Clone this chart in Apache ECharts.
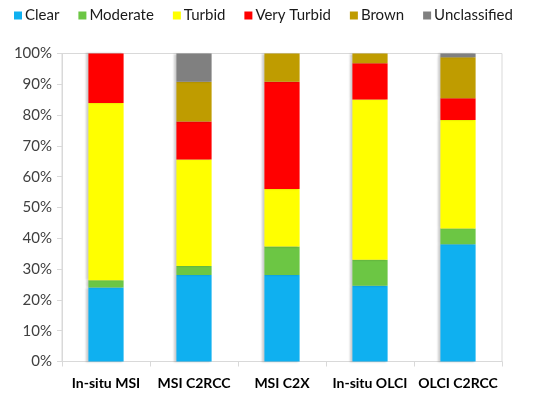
<!DOCTYPE html>
<html><head><meta charset="utf-8">
<script src="https://cdn.jsdelivr.net/npm/echarts@6/dist/echarts.min.js"></script>
<style>html,body{margin:0;padding:0;background:#fff}#c{width:550px;height:399px}</style>
</head><body><div id="c"></div>
<script>
const categories = ['In-situ MSI', 'MSI C2RCC', 'MSI C2X', 'In-situ OLCI', 'OLCI C2RCC'];
const clear = [24, 28.1, 28.1, 24.6, 38.1];
const moderate = [2.4, 2.9, 9.2, 8.4, 5.1];
const turbid = [57.5, 34.6, 18.7, 52.1, 35.2];
const veryTurbid = [16.1, 12.3, 34.8, 11.7, 7.1];
const brown = [0, 12.9, 9.2, 3.2, 13.3];
const unclassified = [0, 9.2, 0, 0, 1.2];
const yTicks = ['0%','10%','20%','30%','40%','50%','60%','70%','80%','90%','100%'];

const seriesDefs = [
  ['Clear', clear, '#0fb0f0'],
  ['Moderate', moderate, '#6cc644'],
  ['Turbid', turbid, '#ffff00'],
  ['Very Turbid', veryTurbid, '#ff0000'],
  ['Brown', brown, '#bf9c00'],
  ['Unclassified', unclassified, '#808080']
];
const font = 'Lato';
const chart = echarts.init(document.getElementById('c'), null, {renderer: 'canvas'});
chart.setOption({
  animation: false,
  textStyle: {fontFamily: font},
  legend: {
    top: 3, left: 9,
    itemWidth: 8, itemHeight: 8, itemGap: 19,
    icon: 'rect',
    textStyle: {fontFamily: font, fontSize: 15, color: '#1a1a1a', padding: [0,0,0,-2]},
    data: seriesDefs.map(s => s[0])
  },
  grid: {left: 62, right: 48, top: 53.5, bottom: 37.5, show: true, borderColor: '#d9d9d9', borderWidth: 1},
  xAxis: {
    type: 'category', data: categories,
    axisLine: {lineStyle: {color: '#d9d9d9'}},
    axisTick: {show: true, alignWithLabel: false, length: 5, lineStyle: {color: '#d9d9d9'}},
    axisLabel: {interval: 0, fontFamily: font, fontSize: 14, fontWeight: 'bold', color: '#000', margin: 15}
  },
  yAxis: {
    type: 'value', min: 0, max: 100, interval: 10,
    axisLine: {show: true, lineStyle: {color: '#d9d9d9'}},
    axisTick: {show: true, length: 5, lineStyle: {color: '#d9d9d9'}},
    splitLine: {show: false},
    axisLabel: {fontFamily: font, fontSize: 15, color: '#404040', margin: 10,
      formatter: v => yTicks[Math.round(v / 10)]}
  },
  series: seriesDefs.map(s => ({
    name: s[0], type: 'bar', stack: 'all', data: s[1], barWidth: '40%',
    itemStyle: {color: s[2], shadowColor: 'rgba(0,0,0,0.2)', shadowBlur: 2, shadowOffsetX: -2}
  }))
});
</script></body></html>
